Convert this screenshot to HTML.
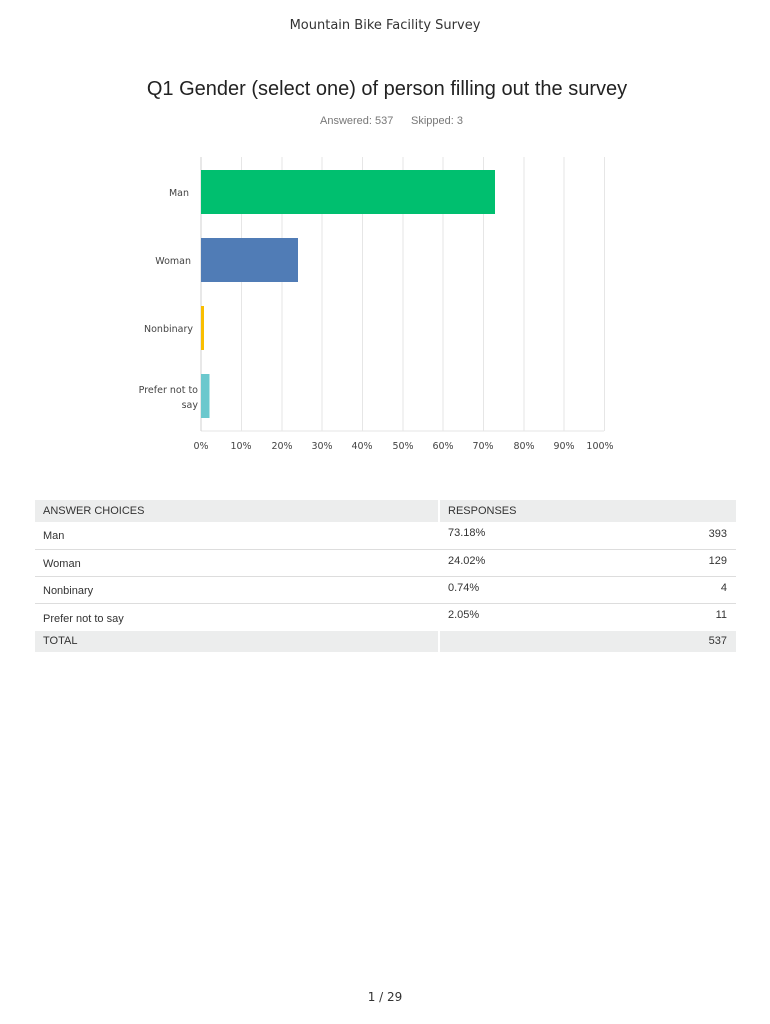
<!DOCTYPE html><html><head><style>
body{margin:0;width:770px;height:1024px;background:#fff;font-family:"Liberation Sans",sans-serif;position:relative;overflow:hidden}
.a{position:absolute;white-space:nowrap}
</style></head><body>
<div class="a" style="left:0;width:770px;top:18px;text-align:center;font-size:13px;color:#333;font-family:'DejaVu Sans',sans-serif">Mountain Bike Facility Survey</div>
<div class="a" style="left:0;width:774px;top:78px;text-align:center;font-size:20px;color:#222">Q1 Gender (select one) of person filling out the survey</div>
<div class="a" style="left:320px;top:115px;font-size:11px;color:#777">Answered: 537</div>
<div class="a" style="left:411px;top:115px;font-size:11px;color:#777">Skipped: 3</div>
<svg class="a" style="left:0;top:0" width="770" height="470" font-family="DejaVu Sans,sans-serif" font-size="9.5" fill="#444">
<g stroke="#e6e6e6" stroke-width="1">
<line x1="241.5" y1="157" x2="241.5" y2="431"/><line x1="282" y1="157" x2="282" y2="431"/><line x1="322" y1="157" x2="322" y2="431"/><line x1="362.5" y1="157" x2="362.5" y2="431"/><line x1="403" y1="157" x2="403" y2="431"/><line x1="443" y1="157" x2="443" y2="431"/><line x1="483.5" y1="157" x2="483.5" y2="431"/><line x1="524" y1="157" x2="524" y2="431"/><line x1="564" y1="157" x2="564" y2="431"/><line x1="604.5" y1="157" x2="604.5" y2="431"/>
<line x1="201" y1="431" x2="604" y2="431"/>
</g>
<line x1="201" y1="157" x2="201" y2="431" stroke="#d0d0d0"/>
<rect x="201" y="170" width="294" height="44" fill="#00bf6f"/>
<rect x="201" y="238" width="97" height="44" fill="#507cb6"/>
<rect x="201" y="306" width="3" height="44" fill="#f9be00"/>
<rect x="201" y="374" width="8.5" height="44" fill="#6bc8cd"/>
<g text-anchor="end"><text x="189" y="196">Man</text><text x="191" y="264">Woman</text><text x="193" y="332">Nonbinary</text><text x="198" y="393">Prefer not to</text><text x="198" y="408">say</text></g>
<g text-anchor="middle"><text x="201" y="449">0%</text><text x="241" y="449">10%</text><text x="282" y="449">20%</text><text x="322" y="449">30%</text><text x="362" y="449">40%</text><text x="403" y="449">50%</text><text x="443" y="449">60%</text><text x="483" y="449">70%</text><text x="524" y="449">80%</text><text x="564" y="449">90%</text><text x="600" y="449">100%</text></g>
</svg>
<div class="a" style="left:35px;top:500px;width:403px;height:22px;background:#eceded"></div>
<div class="a" style="left:440px;top:500px;width:296px;height:22px;background:#eceded"></div>
<div class="a" style="left:35px;top:631px;width:403px;height:21px;background:#eceded"></div>
<div class="a" style="left:440px;top:631px;width:296px;height:21px;background:#eceded"></div>
<div class="a" style="left:35px;top:549px;width:701px;height:1px;background:#ddd"></div>
<div class="a" style="left:35px;top:576px;width:701px;height:1px;background:#ddd"></div>
<div class="a" style="left:35px;top:603px;width:701px;height:1px;background:#ddd"></div>
<div style="font-size:11px;color:#333">
<div class="a" style="left:43px;top:505px">ANSWER CHOICES</div><div class="a" style="left:448px;top:505px">RESPONSES</div>
<div class="a" style="left:43px;top:530px">Man</div><div class="a" style="left:448px;top:527px">73.18%</div><div class="a" style="right:43px;top:528px">393</div>
<div class="a" style="left:43px;top:558px">Woman</div><div class="a" style="left:448px;top:555px">24.02%</div><div class="a" style="right:43px;top:555px">129</div>
<div class="a" style="left:43px;top:585px">Nonbinary</div><div class="a" style="left:448px;top:582px">0.74%</div><div class="a" style="right:43px;top:582px">4</div>
<div class="a" style="left:43px;top:613px">Prefer not to say</div><div class="a" style="left:448px;top:609px">2.05%</div><div class="a" style="right:43px;top:609px">11</div>
<div class="a" style="left:43px;top:635px">TOTAL</div><div class="a" style="right:43px;top:635px">537</div>
</div>
<div class="a" style="left:0;width:770px;top:990px;text-align:center;font-size:12px;color:#333;font-family:'DejaVu Sans',sans-serif">1 / 29</div>
</body></html>
